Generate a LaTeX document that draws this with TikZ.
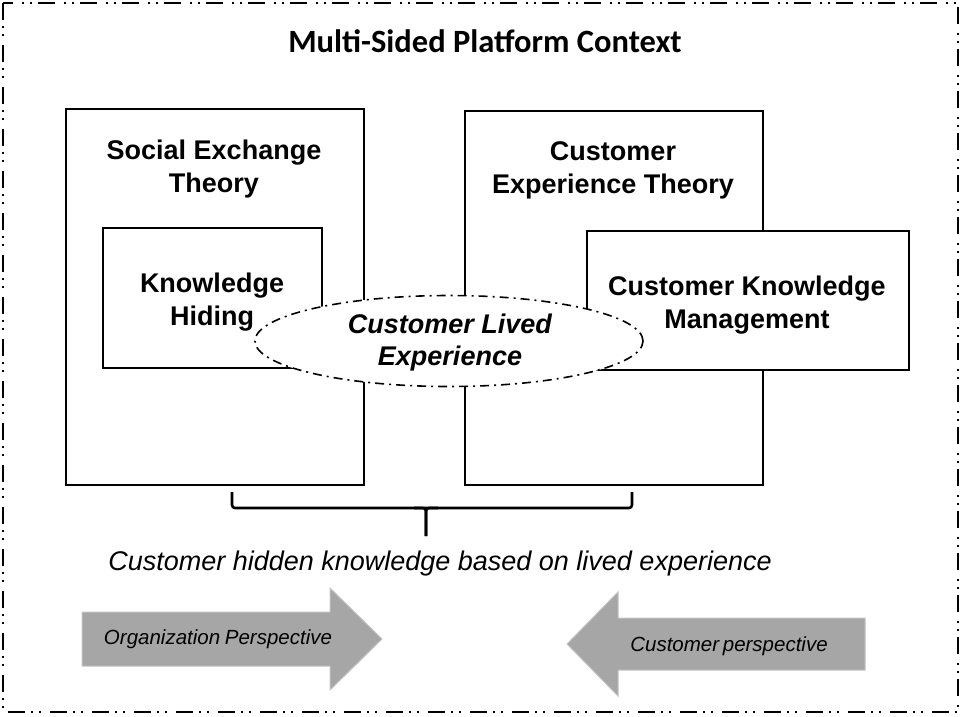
\documentclass[tikz,border=0pt]{standalone}
\usepackage{fontspec}
\setmainfont{Liberation Sans}
\newfontfamily\titlefont{Carlito}
\usetikzlibrary{shapes.geometric}
\definecolor{arrowgray}{RGB}{166,166,166}
\definecolor{arrowedge}{RGB}{195,195,195}
\tikzset{
  bigbox/.style={draw=black, line width=2.8pt, fill=white},
  innerbox/.style={draw=black, line width=2.2pt, fill=white},
  boldtxt/.style={font=\fontsize{27}{33}\selectfont\bfseries, align=center, inner sep=0pt},
  perspective/.style={font=\fontsize{20.5}{24}\selectfont\itshape, inner sep=0pt},
  fatarrow/.style={fill=arrowgray, draw=arrowedge, line width=1pt},
}
\begin{document}
\begin{tikzpicture}[x=1pt,y=-1pt]
\useasboundingbox (0,0) rectangle (960,716);
% outer border
\draw[line width=1.6pt, dash pattern=on 17pt off 6pt on 2pt off 6pt on 2pt off 9pt]
  (3,3) rectangle (958,712);
\node[font=\titlefont\fontsize{32.5}{38}\selectfont\bfseries, inner sep=0pt] (title) at (485,41) {Multi-Sided Platform Context};

% theory boxes
\draw[bigbox] (66,109) rectangle (364,485);
\draw[bigbox] (465,111) rectangle (763,485);
% inner boxes
\draw[innerbox] (103,228) rectangle (322,368);
\draw[innerbox] (587,231) rectangle (909,370);

% ellipse
\node[ellipse, draw=black, fill=white, line width=1.6pt,
      dash pattern=on 9pt off 5pt on 2pt off 5pt,
      minimum width=388pt, minimum height=91pt, inner sep=0pt] (cle) at (449,341) {};

% texts
\node[boldtxt] (set) at (214,169) {Social Exchange\\Theory};
\node[boldtxt] (cet) at (613,170) {Customer\\Experience Theory};
\node[boldtxt] (kh) at (212,302) {Knowledge\\Hiding};
\node[boldtxt] (ckm) at (747,305) {Customer Knowledge\\Management};
\node[boldtxt, font=\fontsize{27}{32}\selectfont\bfseries\itshape] (clet) at (450,343) {Customer Lived\\Experience};

% brace
\coordinate (bl) at (232,492);
\coordinate (br) at (632,492);
\coordinate (btip) at (426,536);
\draw[line width=2.6pt, rounded corners=3pt] (bl) -- (232,508) -- (632,508) -- (br);
\draw[line width=2.6pt, rounded corners=3pt] (414,508) -- (426,508) -- (btip);
\draw[line width=2.6pt, rounded corners=3pt] (438,508) -- (426,508) -- (btip);

\node[font=\fontsize{27}{32}\selectfont\itshape, inner sep=0pt] (hidden) at (440,564) {Customer hidden knowledge based on lived experience};

% perspective arrows
\draw[fatarrow] (82,612) -- (330,612) -- (330,588) -- (382,639) -- (330,690) -- (330,666) -- (82,666) -- cycle;
\node[perspective] (org) at (218,639) {Organization\kern-1pt\ Perspective};
\draw[fatarrow] (865,618) -- (618,618) -- (618,592) -- (567,644) -- (618,696) -- (618,670) -- (865,670) -- cycle;
\node[perspective] (cust) at (729,646) {Customer\kern-2pt\ perspective};
\end{tikzpicture}
\end{document}
